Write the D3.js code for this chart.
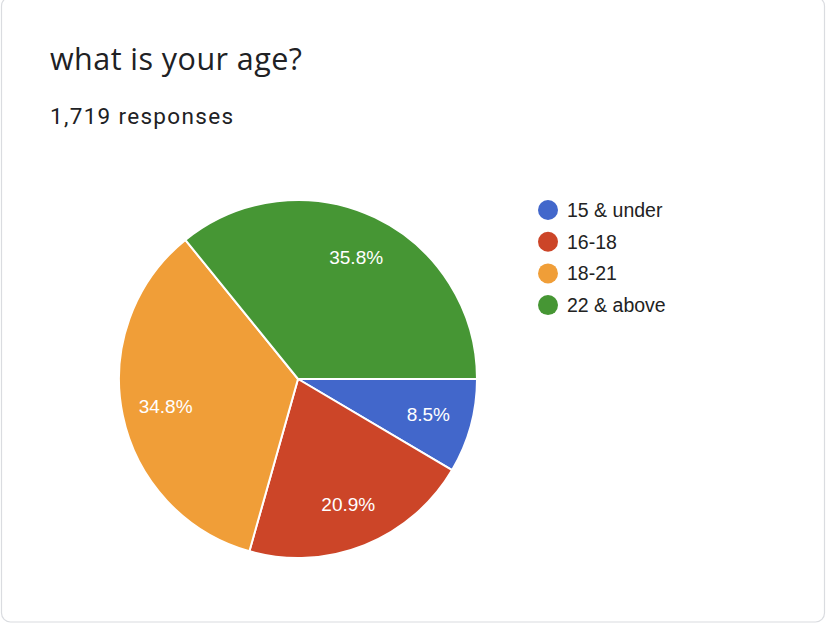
<!DOCTYPE html>
<html>
<head>
<meta charset="utf-8">
<script src="https://cdn.jsdelivr.net/npm/d3@7/dist/d3.min.js"></script>
<style>
  html, body { margin: 0; padding: 0; background: #ffffff; }
  svg { display: block; }
</style>
</head>
<body>
<svg id="chart" width="827" height="623"></svg>
<script>
const title = "what is your age?";
const subtitle = "1,719 responses";
const categories = ["15 & under", "16-18", "18-21", "22 & above"];
const counts = [146, 359, 598, 616];
const percentLabels = ["8.5%", "20.9%", "34.8%", "35.8%"];
const colors = ["#4267cb", "#cc4528", "#f09e38", "#469634"];

const svg = d3.select("#chart");

// card
svg.append("rect")
  .attr("x", 1.5).attr("y", -3)
  .attr("width", 823).attr("height", 625)
  .attr("rx", 9).attr("ry", 9)
  .attr("fill", "#ffffff")
  .attr("stroke", "#dadce0").attr("stroke-width", 1.2);

svg.append("text")
  .attr("x", 50).attr("y", 70)
  .attr("font-family", "'Open Sans', Roboto, sans-serif")
  .attr("font-size", 30.5)
  .attr("textLength", 252)
  .attr("lengthAdjust", "spacing")
  .attr("fill", "#202124")
  .text(title);

svg.append("text")
  .attr("x", 50).attr("y", 124)
  .attr("font-family", "Roboto, 'Open Sans', sans-serif")
  .attr("font-size", 22.5)
  .attr("textLength", 183)
  .attr("lengthAdjust", "spacing")
  .attr("fill", "#202124")
  .text(subtitle);

const cx = 298, cy = 379, r = 179;
const color = d3.scaleOrdinal().domain(categories).range(colors);

const pie = d3.pie().sort(null).value(d => d.v)
  .startAngle(Math.PI / 2).endAngle(Math.PI / 2 + 2 * Math.PI);
const data = categories.map((c, i) => ({ c, v: counts[i], label: percentLabels[i] }));
const arcs = pie(data);
const arc = d3.arc().innerRadius(0).outerRadius(r);
const labelArc = d3.arc().innerRadius(r * 0.755).outerRadius(r * 0.755);

const g = svg.append("g").attr("transform", `translate(${cx},${cy})`);
g.selectAll("path.slice").data(arcs).join("path")
  .attr("class", "slice")
  .attr("d", arc)
  .attr("fill", d => color(d.data.c))
  .attr("stroke", "#ffffff").attr("stroke-width", 2);

g.selectAll("text.lbl").data(arcs).join("text")
  .attr("class", "lbl")
  .attr("transform", d => `translate(${labelArc.centroid(d)})`)
  .attr("text-anchor", "middle")
  .attr("dy", "0.36em")
  .attr("font-family", "'Liberation Sans', Arial, sans-serif")
  .attr("font-size", 19)
  .attr("fill", "#ffffff")
  .text(d => d.data.label);

// legend
const legend = svg.append("g").attr("transform", "translate(548,210)");
const rows = legend.selectAll("g").data(categories).join("g")
  .attr("transform", (d, i) => `translate(0,${i * 31.7})`);
rows.append("circle").attr("r", 10).attr("fill", d => color(d));
rows.append("text")
  .attr("x", 19).attr("dy", "0.36em")
  .attr("font-family", "'Liberation Sans', Arial, sans-serif")
  .attr("font-size", 19.5)
  .attr("fill", "#222222")
  .text(d => d);
</script>
</body>
</html>
